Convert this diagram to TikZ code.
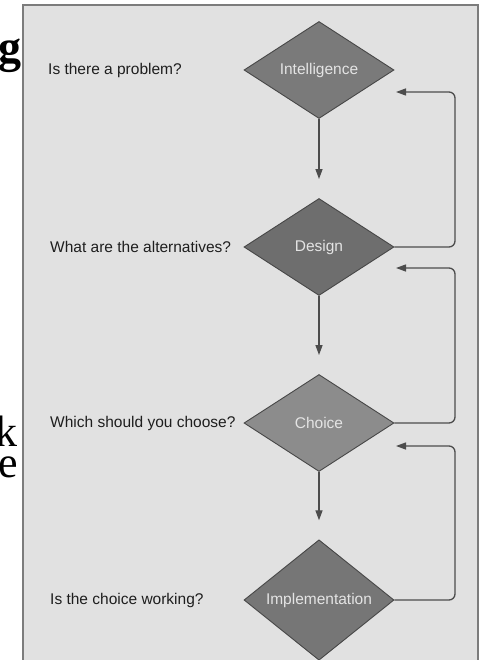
\documentclass[tikz,border=0pt]{standalone}
\usepackage{fontspec}
\setmainfont{Liberation Sans}
\newfontfamily\bigserif{Liberation Serif}
\usetikzlibrary{shapes.geometric,arrows.meta}
\definecolor{panelfill}{HTML}{E1E1E1}
\definecolor{panelline}{HTML}{7C7C7C}
\definecolor{diaedge}{HTML}{474747}
\definecolor{arrowcol}{HTML}{4C4C4C}
\definecolor{labtext}{HTML}{1E1E1E}
\definecolor{diatext}{HTML}{E4E4E4}
\tikzset{
  dia/.style={diamond, draw=diaedge, line width=0.9pt, inner sep=0pt,
    minimum width=150pt, minimum height=97pt, text=diatext,
    font=\fontsize{15.5}{18}\selectfont},
  lab/.style={anchor=west, inner sep=0pt, text=labtext,
    font=\fontsize{15.5}{18}\selectfont},
  down/.style={draw=arrowcol, line width=1.3pt, shorten >=19pt,
    -{Triangle[length=10pt,width=7pt]}},
  fb/.style={draw=arrowcol, line width=1.3pt, rounded corners=6pt,
    -{Triangle[length=10pt,width=7pt]}},
  pagetext/.style={inner sep=0pt, text=black}
}
\begin{document}
\begin{tikzpicture}[x=1pt,y=-1pt]
\useasboundingbox (0,0) rectangle (479,660);
% page text fragments
\node[pagetext, anchor=base east, font=\bigserif\fontsize{46}{50}\selectfont\bfseries] (pg) at (22,63) {g};
\node[pagetext, anchor=north east, align=right, font=\bigserif\fontsize{44}{31}\selectfont] (pke) at (18,416) {k\\e\hspace{6pt}};
% panel
\fill[panelfill] (23,5) rectangle (478,672);
\draw[panelline, line width=1.6pt] (23,672) -- (23,5) -- (478,5) -- (478,672);
% diamonds
\node[dia, fill={rgb,255:red,122;green,122;blue,122}] (int) at (319,70) {Intelligence};
\node[dia, fill={rgb,255:red,110;green,110;blue,110}] (des) at (319,247) {Design};
\node[dia, fill={rgb,255:red,140;green,140;blue,140}] (cho) at (319,423) {Choice};
\node[dia, fill={rgb,255:red,118;green,118;blue,118}] (imp) at (319,600) {Implementation};
% left labels
\node[lab] (q1) at (48,70) {Is there a problem?};
\node[lab] (q2) at (50,247) {What are the alternatives?};
\node[lab] (q3) at (50,423) {Which should you choose?};
\node[lab] (q4) at (50,600) {Is the choice working?};
% downward arrows
\draw[down] (int.south) -- (des.north);
\draw[down] (des.south) -- (cho.north);
\draw[down] (cho.south) -- (imp.north);
% feedback loops
\coordinate (rx) at (455,0);
\coordinate (f1) at (396,92);
\coordinate (f2) at (396,268);
\coordinate (f3) at (396,446);
\draw[fb] (des.east) -- (des.east -| rx) -- (rx |- f1) -- (f1);
\draw[fb] (cho.east) -- (cho.east -| rx) -- (rx |- f2) -- (f2);
\draw[fb] (imp.east) -- (imp.east -| rx) -- (rx |- f3) -- (f3);
\end{tikzpicture}
\end{document}
